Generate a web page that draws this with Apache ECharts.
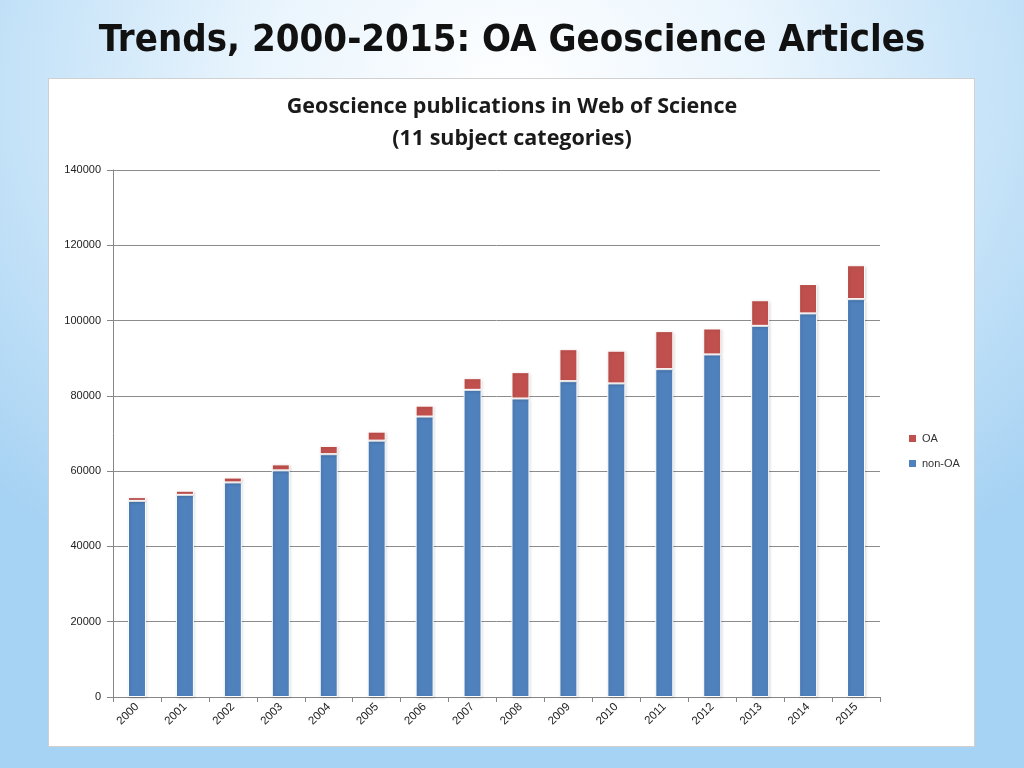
<!DOCTYPE html>
<html>
<head>
<meta charset="utf-8">
<script src="https://cdn.jsdelivr.net/npm/echarts@6/dist/echarts.min.js"></script>
<style>
  html, body { margin: 0; padding: 0; width: 1024px; height: 768px; overflow: hidden; }
  body {
    background: radial-gradient(ellipse 70% 75% at 50% 12%, #ffffff 0%, #eaf5fd 35%, #c4e2f8 70%, #a6d2f3 100%);
    position: relative;
  }
  #panel {
    position: absolute; left: 48px; top: 78px; width: 927px; height: 669px;
    background: #ffffff; border: 1px solid #d0d0d0; box-sizing: border-box;
  }
  #chart { position: absolute; left: 0; top: 0; width: 1024px; height: 768px; }
</style>
</head>
<body>
<div id="panel"></div>
<div id="chart"></div>
<script>
const years = ['2000','2001','2002','2003','2004','2005','2006','2007','2008','2009','2010','2011','2012','2013','2014','2015'];
const nonOA = [52100, 53700, 57000, 60200, 64500, 68100, 74500, 81600, 79300, 83900, 83300, 87100, 91000, 98600, 101900, 105700];
const OA    = [1000, 1100, 1300, 1600, 2200, 2400, 2900, 3100, 7000, 8500, 8700, 10100, 6900, 6800, 7800, 9000];
const yTicks = [0, 20000, 40000, 60000, 80000, 100000, 120000, 140000];

const chart = echarts.init(document.getElementById('chart'), null, { renderer: 'canvas' });
chart.setOption({
  backgroundColor: 'transparent',
  animation: false,
  title: [
    {
      text: 'Trends, 2000-2015: OA Geoscience Articles',
      left: 'center', top: 17,
      textStyle: { fontFamily: 'DejaVu Sans Condensed', fontWeight: 'bold', fontSize: 38, color: '#111111' }
    },
    {
      text: 'Geoscience publications in Web of Science\n(11 subject categories)',
      left: 'center', top: 86,
      textStyle: { fontFamily: 'Open Sans', fontWeight: 'bold', fontSize: 21.5, color: '#1a1a1a', lineHeight: 32 }
    }
  ],
  legend: {
    orient: 'vertical',
    left: 902, top: 428,
    itemWidth: 9, itemHeight: 9, itemGap: 14,
    data: ['OA', 'non-OA'],
    textStyle: { fontFamily: 'Liberation Sans', fontSize: 11, color: '#333333' },
    icon: 'rect'
  },
  grid: { left: 113, right: 144, top: 170, bottom: 71, containLabel: false },
  xAxis: {
    type: 'category',
    data: years,
    axisLine: { lineStyle: { color: '#868686', width: 1 } },
    axisTick: { show: true, alignWithLabel: false, length: 5, lineStyle: { color: '#868686' } },
    axisLabel: { rotate: 45, fontFamily: 'Liberation Sans', fontSize: 11.5, color: '#222222', margin: 8 }
  },
  yAxis: {
    type: 'value',
    min: 0, max: 140000, interval: 20000,
    axisLine: { show: true, lineStyle: { color: '#868686', width: 1 } },
    axisTick: { show: true, inside: false, length: 6, lineStyle: { color: '#868686' } },
    axisLabel: { fontFamily: 'Liberation Sans', fontSize: 11, color: '#222222', margin: 12,
      formatter: v => yTicks.includes(v) ? String(v) : '' },
    splitLine: { show: true, lineStyle: { color: '#8c8c8c', width: 1 } }
  },
  series: [
    {
      name: 'non-OA', type: 'bar', stack: 'total', data: nonOA,
      barWidth: 18,
      itemStyle: { color: '#4F81BD', borderColor: '#ffffff', borderWidth: 1,
        shadowColor: 'rgba(0,0,0,0.15)', shadowBlur: 3, shadowOffsetX: 1, shadowOffsetY: 1 }
    },
    {
      name: 'OA', type: 'bar', stack: 'total', data: OA,
      barWidth: 18,
      itemStyle: { color: '#C0504D', borderColor: '#ffffff', borderWidth: 1,
        shadowColor: 'rgba(0,0,0,0.15)', shadowBlur: 3, shadowOffsetX: 1, shadowOffsetY: 1 }
    }
  ]
});
</script>
</body>
</html>
